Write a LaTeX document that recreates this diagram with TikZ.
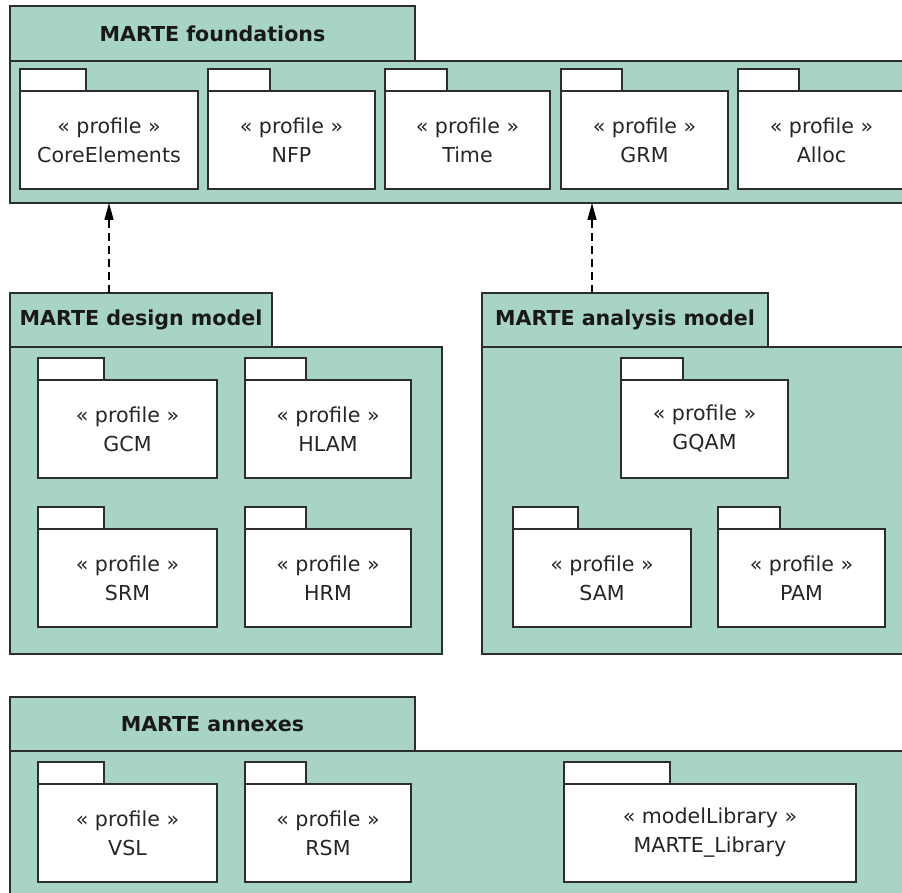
\documentclass[tikz,border=0pt]{standalone}
\usepackage{fontspec}
\setmainfont{DejaVu Sans}
\usetikzlibrary{positioning,arrows.meta}

\definecolor{martegreen}{RGB}{168,211,199}
\definecolor{marteline}{RGB}{45,45,45}

\tikzset{
  pkgline/.style  = {draw=marteline, line width=1.6pt, outer sep=0pt, inner sep=0pt},
  bigtab/.style   = {pkgline, fill=martegreen, anchor=north west,
                     font=\fontsize{20.6}{29}\selectfont\bfseries, text=black!90},
  bigbody/.style  = {pkgline, fill=martegreen, anchor=north west},
  smalltab/.style = {pkgline, fill=white, anchor=south west, minimum height=22pt},
  profbody/.style = {pkgline, fill=white, anchor=north west, minimum height=98pt,
                     align=center, text=black!85},
  dep/.style      = {draw=black, line width=1.4pt, dash pattern=on 8pt off 5pt,
                     -{Triangle[length=17pt,width=9pt]}}
}

% name, x, y (top of body), body width, tab width, stereotype, label
\newcommand{\profpkg}[7]{%
  \node[profbody, minimum width=#4pt] (#1) at (#2,#3) {«~#6~»\\#7};
  \node[smalltab, minimum width=#5pt] (#1tab) at (#1.north west) {};
}

\begin{document}
\begin{tikzpicture}[x=1pt, y=-1pt, font=\fontsize{20.6}{29}\selectfont]
  \useasboundingbox (0,0) rectangle (902,893);
  \clip (0,0) rectangle (902,893);

  %%%%%%%%%%%%%%%%% foundations %%%%%%%%%%%%%%%%%%%
  \node[bigbody, minimum width=910pt, minimum height=142pt] (fndBody) at (10,61) {};
  \node[bigtab, minimum width=405pt, minimum height=55pt] (fndTab) at (10,6) {MARTE foundations};
  \foreach \nm/\x/\w/\tw/\lbl in
      {core/20/178/66/CoreElements, nfp/208/167/62/NFP, time/385/165/62/Time,
       grm/561/167/61/GRM, alloc/738/167/61/Alloc}
    {\profpkg{\nm}{\x}{91}{\w}{\tw}{profile}{\lbl}}

  %%%%%%%%%%%%%%%%% design model %%%%%%%%%%%%%%%%%%
  \node[bigbody, minimum width=432pt, minimum height=307pt] (desBody) at (10,347) {};
  \node[bigtab, minimum width=262pt, minimum height=54pt] (desTab) at (10,293) {MARTE design model};
  \foreach \nm/\x/\y/\w/\tw/\lbl in
      {gcm/38/380/179/66/GCM, hlam/245/380/166/61/HLAM,
       srm/38/529/179/66/SRM, hrm/245/529/166/61/HRM}
    {\profpkg{\nm}{\x}{\y}{\w}{\tw}{profile}{\lbl}}

  %%%%%%%%%%%%%%%%% analysis model %%%%%%%%%%%%%%%%
  \node[bigbody, minimum width=440pt, minimum height=307pt] (anaBody) at (482,347) {};
  \node[bigtab, minimum width=286pt, minimum height=54pt] (anaTab) at (482,293) {MARTE analysis model};
  \foreach \nm/\x/\y/\w/\tw/\lbl in
      {gqam/621/380/167/62/GQAM, sam/513/529/178/65/SAM, pam/718/529/167/62/PAM}
    {\profpkg{\nm}{\x}{\y}{\w}{\tw}{profile}{\lbl}}

  %%%%%%%%%%%%%%%%% annexes %%%%%%%%%%%%%%%%%%%%%%%
  \node[bigbody, minimum width=910pt, minimum height=160pt] (anxBody) at (10,751) {};
  \node[bigtab, minimum width=405pt, minimum height=54pt] (anxTab) at (10,697) {MARTE annexes};
  \profpkg{vsl}{38}{784}{179}{66}{profile}{VSL}
  \profpkg{rsm}{245}{784}{166}{61}{profile}{RSM}
  \profpkg{lib}{564}{784}{292}{106}{modelLibrary}{MARTE\_Library}

  %%%%%%%%%%%%%%%%% dependencies %%%%%%%%%%%%%%%%%%
  \coordinate (anaDep) at (592,293);
  \draw[dep] (desTab.north -| core.south) -- (core.south |- fndBody.south);
  \draw[dep] (anaDep) -- (anaDep |- fndBody.south);
\end{tikzpicture}
\end{document}
